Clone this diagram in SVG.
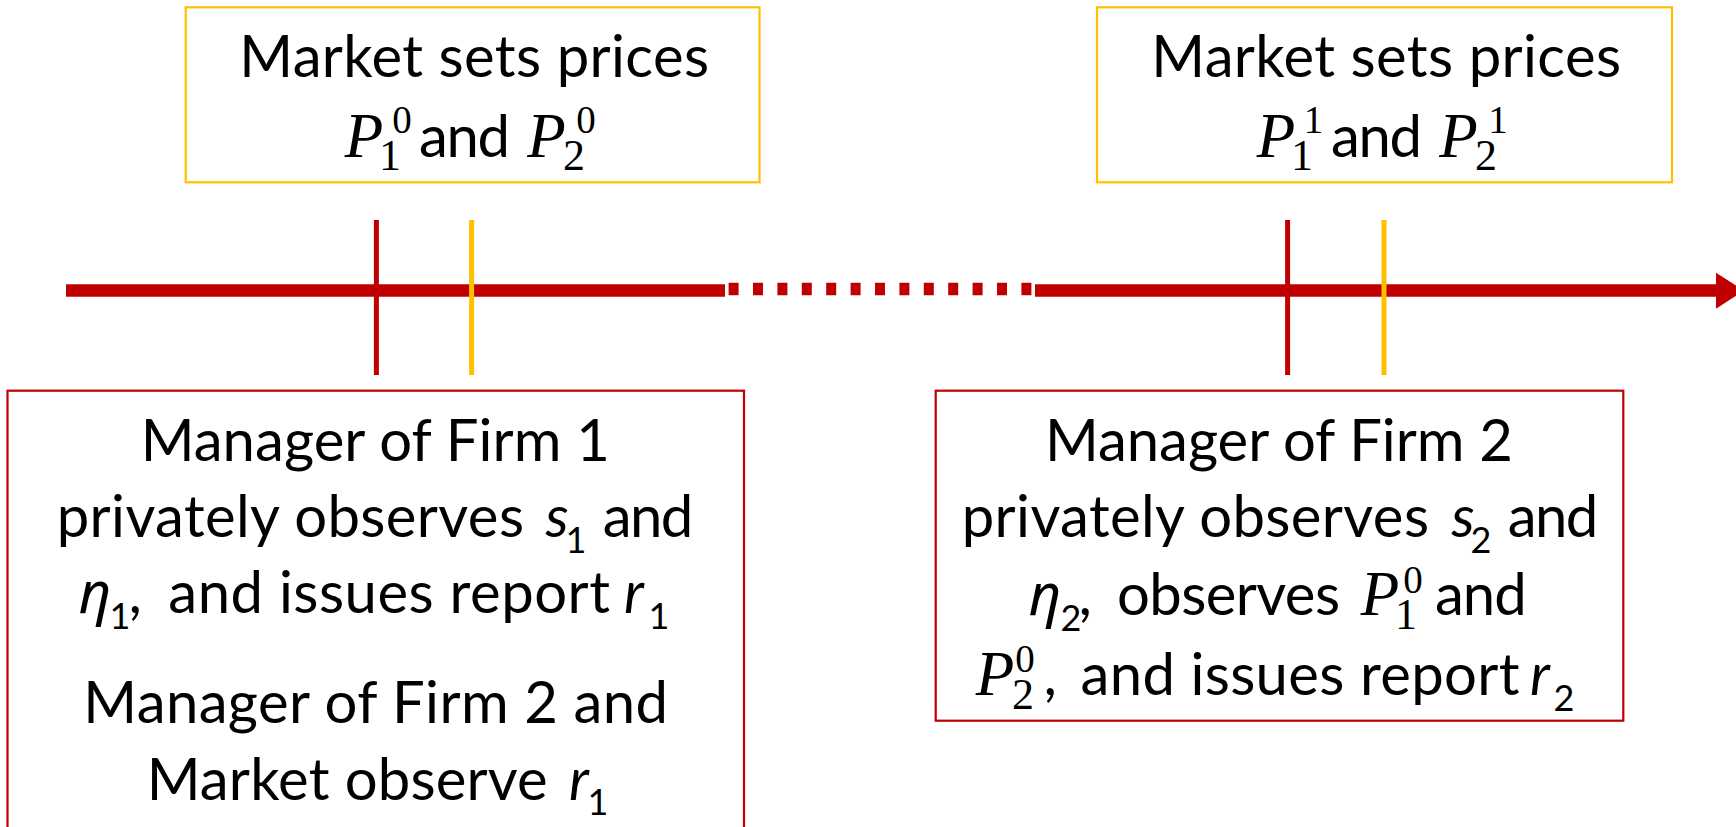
<svg xmlns="http://www.w3.org/2000/svg" width="1736" height="827" viewBox="0 0 1736 827">
<style>
.ybox{fill:#fff;stroke:#FFC000;stroke-width:2.2}
.rbox{fill:#fff;stroke:#C00000;stroke-width:2.2}
.t{font-family:Lato,"Liberation Sans",sans-serif;font-size:58px;fill:#000}
.P{font-family:"Liberation Serif",serif;font-style:italic;font-size:63px;text-anchor:middle;fill:#000}
.sp{font-family:"Liberation Serif",serif;font-style:normal;font-size:39px}
.sb{font-family:"Liberation Serif",serif;font-style:normal;font-size:44px}
.vi{font-family:Lato,"Liberation Sans",sans-serif;font-style:italic;font-size:58px;text-anchor:middle;fill:#000}
.eta{font-family:"Noto Sans","DejaVu Sans",sans-serif;font-style:italic;font-size:56px;text-anchor:middle;fill:#000}
.ss{font-family:Lato,"Liberation Sans",sans-serif;font-style:normal;font-size:36px}
.axis{stroke:#C00000;stroke-width:12.4;fill:none}
.tr{stroke:#C00000;stroke-width:5}
.ty{stroke:#FFC000;stroke-width:5}
</style>

<g id="connectors">
  <line class="axis" x1="66" y1="290.5" x2="725" y2="290.5"/>
  <line class="axis" x1="728.6" y1="289" x2="1031.4" y2="289" stroke-dasharray="10 14.4"/>
  <line class="axis" x1="1035" y1="290.5" x2="1717" y2="290.5"/>
  <polygon points="1716,272.7 1744,290.5 1716,308.7" fill="#C00000"/>
  <line class="tr" x1="376.4" y1="220" x2="376.4" y2="375"/>
  <line class="ty" x1="471.6" y1="220" x2="471.6" y2="375"/>
  <line class="tr" x1="1287.6" y1="220" x2="1287.6" y2="375"/>
  <line class="ty" x1="1384" y1="220" x2="1384" y2="375"/>
</g>

<g id="market0">
  <rect class="ybox" x="185.7" y="7.3" width="573.8" height="175"/>
  <text class="t" x="239.3" y="77" textLength="469.7">Market sets prices</text>
  <text class="P" x="364" y="156.7">P<tspan class="sb" x="390" y="170">1</tspan><tspan class="sp" x="402" y="133">0</tspan></text>
  <text class="t" x="419" y="156.7" textLength="91">and</text>
  <text class="P" x="546.5" y="156.7">P<tspan class="sb" x="574" y="170">2</tspan><tspan class="sp" x="586" y="133">0</tspan></text>
</g>

<g id="market1">
  <rect class="ybox" x="1097" y="7.3" width="575" height="175"/>
  <text class="t" x="1151.3" y="77" textLength="469.7">Market sets prices</text>
  <text class="P" x="1276" y="156.7">P<tspan class="sb" x="1302" y="170">1</tspan><tspan class="sp" x="1313.5" y="133">1</tspan></text>
  <text class="t" x="1331" y="156.7" textLength="91">and</text>
  <text class="P" x="1458.5" y="156.7">P<tspan class="sb" x="1486" y="170">2</tspan><tspan class="sp" x="1498" y="133">1</tspan></text>
</g>

<g id="firm1">
  <rect class="rbox" x="7.5" y="390.7" width="736.5" height="500"/>
  <text class="t" x="140.7" y="461" textLength="469.3">Manager of Firm 1</text>
  <text class="t" x="56.7" y="536.7" textLength="467.3">privately observes</text>
  <text class="vi" x="557" y="536.7">s<tspan class="ss" x="576" y="553">1</tspan></text>
  <text class="t" x="602.7" y="536.7" textLength="90.6">and</text>
  <text class="eta" x="95" y="613.3">η<tspan class="ss" x="120" y="629">1</tspan><tspan class="t" x="137" y="613.3">,</tspan></text>
  <text class="t" x="168.3" y="613.3" textLength="441.7">and issues report</text>
  <text class="vi" x="634" y="613.3">r<tspan class="ss" x="659" y="629">1</tspan></text>
  <text class="t" x="83.3" y="723" textLength="584.7">Manager of Firm 2 and</text>
  <text class="t" x="146.7" y="799.5" textLength="401">Market observe</text>
  <text class="vi" x="579" y="799.5">r<tspan class="ss" x="598" y="815">1</tspan></text>
</g>

<g id="firm2">
  <rect class="rbox" x="935.7" y="390.7" width="687.6" height="330"/>
  <text class="t" x="1045" y="461" textLength="468">Manager of Firm 2</text>
  <text class="t" x="961.7" y="536.7" textLength="467.3">privately observes</text>
  <text class="vi" x="1463" y="536.7">s<tspan class="ss" x="1481" y="553">2</tspan></text>
  <text class="t" x="1507.7" y="536.7" textLength="90.6">and</text>
  <text class="eta" x="1045" y="615">η<tspan class="ss" x="1071" y="631">2</tspan><tspan class="t" x="1087" y="615">,</tspan></text>
  <text class="t" x="1117" y="615" textLength="223">observes</text>
  <text class="P" x="1380" y="615">P<tspan class="sb" x="1406" y="629">1</tspan><tspan class="sp" x="1413" y="593">0</tspan></text>
  <text class="t" x="1435" y="615" textLength="91.7">and</text>
  <text class="P" x="995" y="695">P<tspan class="sb" x="1023" y="709">2</tspan><tspan class="sp" x="1025" y="672">0</tspan><tspan class="t" x="1052" y="695">,</tspan></text>
  <text class="t" x="1080.5" y="695" textLength="439">and issues report</text>
  <text class="vi" x="1540" y="695">r<tspan class="ss" x="1564" y="711">2</tspan></text>
</g>
</svg>
